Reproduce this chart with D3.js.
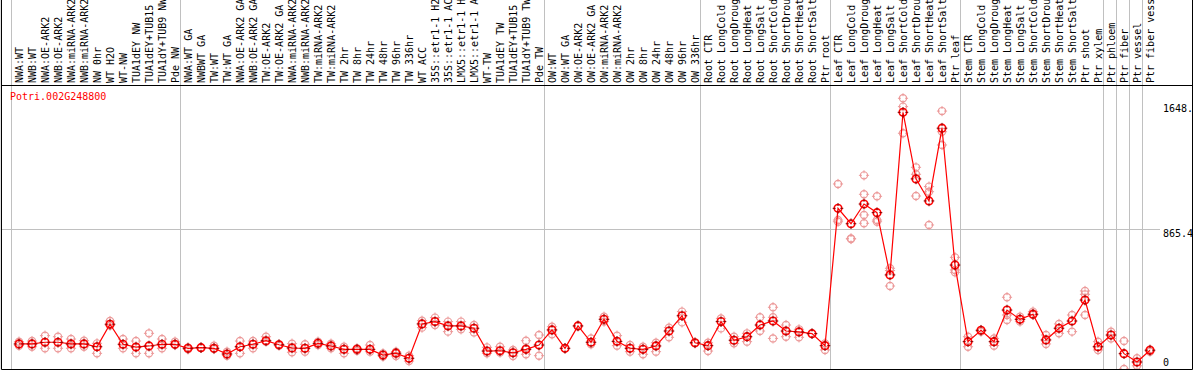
<!DOCTYPE html>
<html>
<head>
<meta charset="utf-8">
<script src="https://cdn.jsdelivr.net/npm/d3@7"></script>
<style>
  html, body { margin: 0; padding: 0; background: #fff; }
  svg { display: block; }
  text { font-family: "DejaVu Sans Mono", monospace; font-size: 10px; }
</style>
</head>
<body>
<div id="chart"></div>
<script>
// 基因名稱
const geneName = 'Potri.002G248800';

// 樣本名稱（每一欄）
const categories = [
  'NWA:WT', 'NWB:WT', 'NWA:OE-ARK2', 'NWB:OE-ARK2', 'NWA:miRNA-ARK2', 'NWB:miRNA-ARK2',
  'NW 0hr', 'WT H2O', 'WT-NW', 'TUA1dEY NW', 'TUA1dEY+TUB15 NW', 'TUA1dY+TUB9 NW', 'Pde NW',
  'NWA:WT GA', 'NWBWT GA', 'TW:WT', 'TW:WT GA', 'NWA:OE-ARK2 GA', 'NWB:OE-ARK2 GA',
  'TW:OE-ARK2', 'TW:OE-ARK2 GA', 'NWA:miRNA-ARK2 GA', 'NWB:miRNA-ARK2 GA', 'TW:miRNA-ARK2',
  'TW:miRNA-ARK2 GA', 'TW 2hr', 'TW 8hr', 'TW 24hr', 'TW 48hr', 'TW 96hr', 'TW 336hr',
  'WT ACC', '35S::etr1-1 H2O', '35S::etr1-1 ACC', 'LMX5::etr1-1 H2O', 'LMX5::etr1-1 ACC',
  'WT-TW', 'TUA1dEY TW', 'TUA1dEY+TUB15 TW', 'TUA1dY+TUB9 TW', 'Pde TW',
  'OW:WT', 'OW:WT GA', 'OW:OE-ARK2', 'OW:OE-ARK2 GA', 'OW:miRNA-ARK2', 'OW:miRNA-ARK2 GA',
  'OW 2hr', 'OW 8hr', 'OW 24hr', 'OW 48hr', 'OW 96hr', 'OW 336hr',
  'Root CTR', 'Root LongCold', 'Root LongDrought', 'Root LongHeat', 'Root LongSalt',
  'Root ShortCold', 'Root ShortDrought', 'Root ShortHeat', 'Root ShortSalt', 'Ptr root',
  'Leaf CTR', 'Leaf LongCold', 'Leaf LongDrought', 'Leaf LongHeat', 'Leaf LongSalt',
  'Leaf ShortCold', 'Leaf ShortDrought', 'Leaf ShortHeat', 'Leaf ShortSalt', 'Ptr leaf',
  'Stem CTR', 'Stem LongCold', 'Stem LongDrought', 'Stem LongHeat', 'Stem LongSalt',
  'Stem ShortCold', 'Stem ShortDrought', 'Stem ShortHeat', 'Stem ShortSalt', 'Ptr shoot',
  'Ptr xylem', 'Ptr phloem', 'Ptr fiber', 'Ptr vessel', 'Ptr fiber vessel'
];

// 每組的欄數（組與組之間畫灰色分隔線）
const groupSizes = [13, 28, 12, 10, 10, 11, 1, 1, 1, 1];

// 平均值
const meanValues = [
  117, 117, 128, 128, 117, 117, 99, 245, 115, 97, 104, 115, 115,
  89, 93, 89, 52, 99, 115, 138, 112, 91, 89, 121, 104, 82, 82, 82, 45, 57, 24,
  247, 262, 234, 234, 219, 71, 73, 60, 82, 110,
  208, 89, 234, 128, 277, 134, 89, 82, 104, 201, 300, 125,
  106, 262, 141, 164, 240, 266, 201, 195, 184, 106,
  997, 897, 1025, 969, 565, 1620, 1188, 1045, 1517, 629,
  132, 206, 132, 337, 277, 310, 143, 219, 266, 402, 99,
  175, 54, 0, 76
];

// 各重複樣本的值
const replicateValues = [
  [132, 106], [136, 99], [171, 89], [164, 89], [149, 89, 117], [138, 99], [121, 56], [266, 236],
  [149, 89], [136, 56], [186, 56], [149, 89], [132, 110],
  [95, 82], [93, 93], [106, 84], [67, 41], [136, 56], [136, 89], [164, 132], [115, 106],
  [119, 63], [115, 67], [132, 110], [119, 89], [99, 56], [89, 73], [110, 67], [56, 35],
  [67, 39], [41, 6], [268, 223], [288, 240], [262, 197], [262, 212], [240, 192],
  [95, 56], [99, 61], [78, 39], [138, 50, 89], [175, 41],
  [229, 180], [89], [234], [153, 115], [294, 262], [171, 106], [110, 67], [99, 50],
  [125, 67], [223, 160], [327, 257], [121],
  [125, 71], [283, 218], [164, 121], [186, 132], [290, 201], [355, 290, 153], [240, 164],
  [212, 160], [184], [121, 78],
  [1155, 921, 910], [802, 798], [1211, 1088, 954, 900], [1075, 921, 910], [608, 593, 493],
  [1711, 1657, 1484], [1263, 1218, 1077], [1138, 1105, 889], [1628, 1494, 1408], [679, 597, 582],
  [164, 99], [205, 197], [153, 106], [420, 305, 272], [294, 262], [327, 305], [175, 117],
  [247, 186], [305, 197], [461, 439, 305], [132, 78],
  [197, 153], [136, -45], [24, -25], [82, 67]
];

// 右側刻度
const yTickValues = [0, 865.4, 1648];
const yTickLabels = ['0', '865.4', '1648.'];

const width = 1194;
const height = 370;
const labelBottom = 83;    // 樣本名稱底部
const plotTop = 85.5;      // 圖區上緣
const plotBottom = 369.5;  // 圖區下緣
const frameLeft = 1.5;
const frameRight = 1192.5;

const svg = d3.select('#chart')
  .append('svg')
  .attr('width', width)
  .attr('height', height);

// x 比例尺：每欄 13px
const xScale = d3.scaleBand()
  .domain(d3.range(categories.length))
  .range([12.5, 12.5 + 13 * categories.length])
  .padding(0);
const xCenter = i => xScale(i) + xScale.bandwidth() / 2;

// y 比例尺
const yScale = d3.scaleLinear()
  .domain([0, 1648])
  .range([362, 108]);

// 組分隔線位置
const boundaries = [0];
groupSizes.forEach(n => boundaries.push(boundaries[boundaries.length - 1] + n));

svg.append('g')
  .attr('class', 'v-grid')
  .selectAll('line')
  .data(boundaries)
  .join('line')
  .attr('x1', d => Math.round(xCenter(d) - 8) + 0.5)
  .attr('x2', d => Math.round(xCenter(d) - 8) + 0.5)
  .attr('y1', 0)
  .attr('y2', plotBottom)
  .attr('stroke', '#c0c0c0')
  .attr('stroke-width', 1);

// 中間水平格線
svg.append('line')
  .attr('x1', frameLeft)
  .attr('x2', 1160)
  .attr('y1', Math.round(yScale(yTickValues[1])) + 0.5)
  .attr('y2', Math.round(yScale(yTickValues[1])) + 0.5)
  .attr('stroke', '#c0c0c0')
  .attr('stroke-width', 1);

// 外框與分隔線
const frame = svg.append('g').attr('class', 'frame')
  .attr('stroke', '#000')
  .attr('stroke-width', 1);
frame.append('line').attr('x1', frameLeft).attr('x2', frameLeft).attr('y1', 0).attr('y2', plotBottom);
frame.append('line').attr('x1', frameRight).attr('x2', frameRight).attr('y1', 0).attr('y2', plotBottom);
frame.append('line').attr('x1', frameLeft).attr('x2', frameRight).attr('y1', plotTop).attr('y2', plotTop);
frame.append('line').attr('x1', frameLeft).attr('x2', frameRight).attr('y1', plotBottom).attr('y2', plotBottom);

// 樣本名稱（直排）
svg.append('g')
  .attr('class', 'x-labels')
  .selectAll('text')
  .data(categories)
  .join('text')
  .attr('transform', (d, i) => `translate(${xCenter(i)}, ${labelBottom}) rotate(-90)`)
  .attr('dy', '0.35em')
  .attr('fill', '#000')
  .text(d => d);

// 右側刻度文字
svg.append('g')
  .attr('class', 'y-labels')
  .selectAll('text')
  .data(yTickValues)
  .join('text')
  .attr('x', 1163)
  .attr('y', d => yScale(d))
  .attr('dy', (d, i) => i === 1 ? '0.85em' : '0.35em')
  .attr('fill', '#000')
  .text((d, i) => yTickLabels[i]);

// 基因名稱
svg.append('text')
  .attr('x', 10)
  .attr('y', 100)
  .attr('fill', '#ff0000')
  .text(geneName);

// 圖區裁切
svg.append('clipPath')
  .attr('id', 'plot-clip')
  .append('rect')
  .attr('x', frameLeft + 0.5)
  .attr('y', plotTop + 0.5)
  .attr('width', frameRight - frameLeft - 1)
  .attr('height', plotBottom - plotTop - 1);

const plot = svg.append('g').attr('clip-path', 'url(#plot-clip)');

// 畫帶小刻痕的圓圈
function drawMarker(g, color, tickColor, r, sw) {
  g.append('circle')
    .attr('r', r)
    .attr('fill', 'none')
    .attr('stroke', color)
    .attr('stroke-width', sw);
  g.append('path')
    .attr('d', `M0,${-r - 1.5}V${-r + 1.5}M0,${r - 1.5}V${r + 1.5}M${-r - 1.5},0H${-r + 1.5}M${r - 1.5},0H${r + 1.5}`)
    .attr('stroke', tickColor)
    .attr('stroke-width', 1);
}

// 重複樣本點
const repPoints = [];
replicateValues.forEach((reps, i) => reps.forEach(v => repPoints.push({ i, v })));

plot.append('g')
  .attr('class', 'replicates')
  .selectAll('g')
  .data(repPoints)
  .join('g')
  .attr('transform', d => `translate(${xCenter(d.i)}, ${yScale(d.v)})`)
  .each(function () { drawMarker(d3.select(this), '#ec9a9a', '#ec9a9a', 3.6, 1.2); });

// 平均值連線
const line = d3.line()
  .x((d, i) => xCenter(i))
  .y(d => yScale(d));

plot.append('path')
  .datum(meanValues)
  .attr('fill', 'none')
  .attr('stroke', '#ff0000')
  .attr('stroke-width', 1.2)
  .attr('d', line);

// 平均值點
plot.append('g')
  .attr('class', 'means')
  .selectAll('g')
  .data(meanValues)
  .join('g')
  .attr('transform', (d, i) => `translate(${xCenter(i)}, ${yScale(d)})`)
  .each(function () { drawMarker(d3.select(this), '#ff0000', '#800000', 3.8, 1.6); });
</script>
</body>
</html>
